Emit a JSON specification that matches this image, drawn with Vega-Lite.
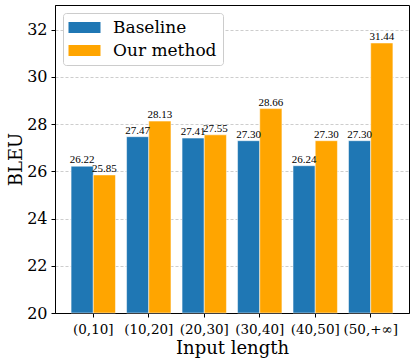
{
  "$schema": "https://vega.github.io/schema/vega-lite/v6.json",
  "autosize": {"type": "none"},
  "width": 354,
  "height": 308,
  "padding": {"left": 55, "top": 5, "right": 6, "bottom": 48},
  "background": "white",
  "data": {
    "values": [
      {"range": "(0,10]", "method": "Baseline", "bleu": 26.22},
      {"range": "(0,10]", "method": "Our method", "bleu": 25.85},
      {"range": "(10,20]", "method": "Baseline", "bleu": 27.47},
      {"range": "(10,20]", "method": "Our method", "bleu": 28.13},
      {"range": "(20,30]", "method": "Baseline", "bleu": 27.41},
      {"range": "(20,30]", "method": "Our method", "bleu": 27.55},
      {"range": "(30,40]", "method": "Baseline", "bleu": 27.30},
      {"range": "(30,40]", "method": "Our method", "bleu": 28.66},
      {"range": "(40,50]", "method": "Baseline", "bleu": 26.24},
      {"range": "(40,50]", "method": "Our method", "bleu": 27.30},
      {"range": "(50,+∞]", "method": "Baseline", "bleu": 27.30},
      {"range": "(50,+∞]", "method": "Our method", "bleu": 31.44}
    ]
  },
  "encoding": {
    "x": {
      "field": "range", "type": "nominal", "sort": null,
      "scale": {"paddingInner": 0.2, "paddingOuter": 0.29},
      "axis": {
        "title": "Input length", "titleFont": "DejaVu Serif", "titleFontSize": 18, "titleFontWeight": "normal", "titleColor": "black", "titlePadding": 4,
        "labelAngle": 0, "labelFont": "DejaVu Serif", "labelFontSize": 13.5, "labelColor": "black", "labelPadding": 5,
        "tickSize": 4, "tickColor": "black", "domainColor": "black", "grid": false
      }
    },
    "xOffset": {"field": "method", "type": "nominal", "scale": {"paddingInner": 0, "paddingOuter": 0}},
    "y": {
      "field": "bleu", "type": "quantitative",
      "scale": {"domain": [20, 33.05], "zero": false, "nice": false},
      "axis": {
        "title": "BLEU", "titleFont": "DejaVu Serif", "titleFontSize": 18, "titleFontWeight": "normal", "titleColor": "black", "titlePadding": 1,
        "values": [20, 22, 24, 26, 28, 30, 32],
        "labelFont": "DejaVu Serif", "labelFontSize": 16, "labelColor": "black", "labelPadding": 4,
        "tickSize": 4, "tickColor": "black", "domainColor": "black",
        "grid": true, "gridColor": "#c0c0c0", "gridDash": [3, 2], "gridWidth": 0.8
      }
    }
  },
  "layer": [
    {
      "mark": {"type": "bar", "stroke": "white", "strokeWidth": 0.5},
      "encoding": {
        "y2": {"datum": 20},
        "color": {
          "field": "method", "type": "nominal",
          "scale": {"domain": ["Baseline", "Our method"], "range": ["#1f77b4", "#ffa500"]},
          "legend": {
            "title": null, "orient": "none", "legendX": 8, "legendY": 8,
            "symbolType": "M-2,-0.7H2V0.7H-2Z", "symbolSize": 256, "symbolStrokeWidth": 0,
            "symbolOffset": 7,
            "labelFont": "DejaVu Serif", "labelFontSize": 17, "labelColor": "black",
            "rowPadding": 5, "labelOffset": 20,
            "padding": 6, "fillColor": "white", "strokeColor": "#cccccc", "cornerRadius": 3
          }
        }
      }
    },
    {
      "mark": {"type": "text", "baseline": "bottom", "dy": -1, "font": "Liberation Serif", "fontSize": 11, "color": "black"},
      "encoding": {
        "text": {"field": "bleu", "type": "quantitative", "format": ".2f"}
      }
    }
  ],
  "config": {"view": {"stroke": "black", "strokeWidth": 1}}
}
